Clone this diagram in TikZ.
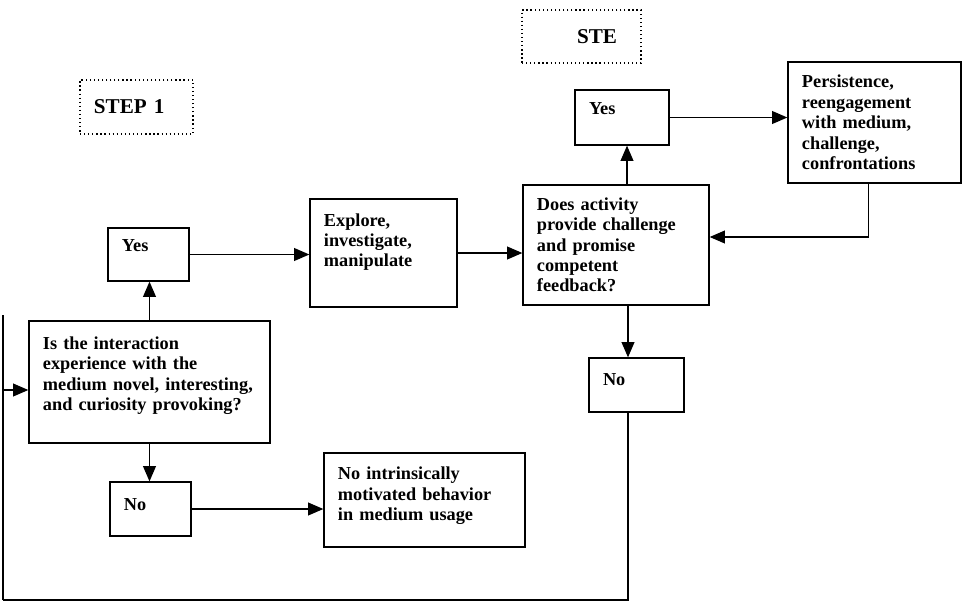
\documentclass[tikz,border=0pt]{standalone}
\usepackage{fontspec}
\setmainfont{Liberation Serif}
\usetikzlibrary{arrows.meta, positioning, calc}
\tikzset{
  block/.style={rectangle, draw=black, line width=0.9pt, align=left, inner xsep=0.35cm, inner ysep=0pt,
    font=\bfseries\fontsize{13}{14.5}\selectfont},
  steplbl/.style={rectangle, draw=black, dotted, line width=0.9pt, align=left, inner xsep=0.35cm, inner ysep=0pt,
    font=\bfseries\fontsize{15}{17}\selectfont},
  arrow/.style={-{Triangle[length=0.38cm, width=0.32cm]}, line width=0.9pt},
  line/.style={line width=0.9pt}
}

\begin{document}
\begin{tikzpicture}[x=0.025cm, y=-0.025cm]
\useasboundingbox (0,0) rectangle (965,606);
%--- step labels ---
\node[steplbl, text width=2.125cm, minimum height=1.35cm] (step1) at (136.5,107) {STEP 1};
\node[steplbl, align=right, inner xsep=0.6cm, text width=1.775cm, minimum height=1.325cm] (ste) at (581.5,36.5) {STE};
%--- step 1 ---
\node[block, text width=5.325cm, minimum height=3.05cm, text depth=55.5pt] (question) at (149.5,382)
  {Is the interaction\\ experience with the\\ medium novel, interesting,\\ and curiosity provoking?};
\node[block, text width=1.325cm, minimum height=1.325cm, text depth=12.7pt] (yesA) at (148.5,254.5) {Yes};
\node[block, text width=1.325cm, minimum height=1.35cm, text depth=7pt] (noA) at (150.5,509) {No};
\node[block, text width=2.975cm, minimum height=2.7cm, text depth=47.4pt] (explore) at (383.5,253)
  {Explore,\\ investigate,\\ manipulate};
\node[block, text width=4.325cm, minimum height=2.35cm, text depth=37.5pt] (nointr) at (424.5,500)
  {No intrinsically\\ motivated behavior\\ in medium usage};
%--- step 2 ---
\node[block, text width=3.95cm, minimum height=3.0cm] (does) at (616,245)
  {Does activity\\ provide challenge\\ and promise\\ competent\\ feedback?};
\node[block, text width=1.65cm, minimum height=1.375cm, text depth=12.7pt] (yesB) at (622,117.5) {Yes};
\node[block, text width=1.675cm, minimum height=1.35cm, text depth=8.5pt] (noB) at (636.5,385) {No};
\node[block, text width=3.625cm, minimum height=3.025cm] (persist) at (874.5,122.5)
  {Persistence,\\ reengagement\\ with medium,\\ challenge,\\ confrontations};
% loop corners
\coordinate (loopR) at (628,600);
\coordinate (loopL) at (3,600);
\coordinate (loopT) at (3,315);
\coordinate (loopIn) at (3,390);
% arrows step 1
\draw[arrow] (question.north) -- (question.north |- yesA.south);
\draw[arrow] (question.south) -- (question.south |- noA.north);
\draw[arrow] (yesA.east) -- (yesA.east -| explore.west);
\draw[arrow] (noA.east) -- (noA.east -| nointr.west);
\draw[arrow] (explore.east) -- (explore.east -| does.west);
% arrows step 2
\draw[arrow] ([xshift=0.275cm]does.north) -- ([xshift=0.275cm]does.north |- yesB.south);
\draw[arrow] (yesB.east) -- (yesB.east -| persist.west);
\draw[arrow] ([xshift=-0.15cm]persist.south) |- ([yshift=0.2cm]does.east);
\draw[arrow] ([xshift=0.3cm]does.south) -- ([xshift=0.3cm]does.south |- noB.north);
% back to start
\draw[line] (loopR |- noB.south) -- (loopR) -- (loopL);
\draw[line, line width=2pt] (loopL) -- (loopT);
\draw[arrow] (loopIn) -- (loopIn -| question.west);
\end{tikzpicture}
\end{document}
